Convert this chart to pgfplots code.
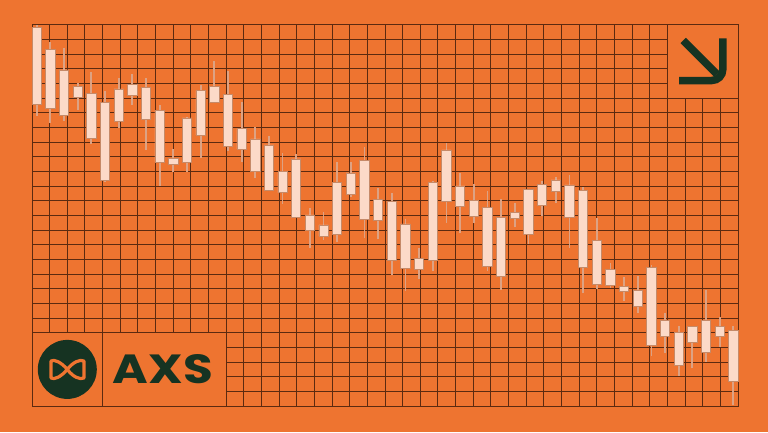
\documentclass[border=0pt]{standalone}
\usepackage{fontspec}
\setmainfont{Poppins}
\usepackage{pgfplots}
\usepackage{pgfplotstable}
\pgfplotsset{compat=1.18}

\definecolor{bg}{HTML}{EE7430}
\definecolor{gridc}{HTML}{5C2A10}
\definecolor{bodyc}{HTML}{FCDAC8}
\definecolor{edgec}{HTML}{C68A68}
\definecolor{wickc}{HTML}{DDA283}
\definecolor{ink}{HTML}{163322}

% candle values: wick high, body top, body bottom, wick low
\pgfplotstableread{
i  high  bhi    blo    low
1  381   378.7  301.7  290
2  364.3 356.7  297.7  283.3
3  358.3 336    291    285
4  323.3 319.3  308.3  296
5  334.3 312.3  267.7  262
6  315.3 303.3  226    224
7  328.3 317    284.3  277.7
8  331.7 321.7  311    301
9  328.3 318.7  286.7  256
10 301   295.3  244    220
11 257   247.7  242    234.3
12 289   288    243.7  234.3
13 321   315.3  271    248.3
14 345.3 319.3  303.3  302.5
15 335.3 311.7  259.3  255.3
16 304.3 277.7  257    244.3
17 278.7 267    234.3  228.3
18 270   261    216    215.5
19 253.3 234.3  213.3  202
20 252   247    188.7  188
21 197.7 191    175.3  157.7
22 194   181    170    166
23 244.3 223.7  172    164.3
24 243.7 233    212    209.3
25 259.3 245.3  187    167.7
26 218.3 206.7  186    166.7
27 212.7 204.3  146    131
28 187   182    137.7  115.3
29 157.7 147.7  136.7  126.7
30 225.3 223.3  146    135
31 263.3 256    204.3  183.3
32 233.3 220    199.3  172.7
33 222   205.3  189.3  182.7
34 215.3 198.7  140    135
35 207   188.3  130    116
36 202.5 193.5  188    178.7
37 217   216.7  171.7  162
38 225   221.7  200.3  190.3
39 229.3 226    215    202.7
40 231   221    188.7  158.3
41 219.3 215.3  138.7  112.7
42 187.7 166    121.7  116.7
43 143.3 136.7  120.3  118.3
44 128.7 119.3  114.3  105.3
45 130   115.3  99.3   93.3
46 141   138.7  61     50
47 92.7  86     70     53.3
48 80    73.7   41     30
49 80    79.3   63.3   37.7
50 116   86     53.3   44.3
51 89.3  80     69.3   59.3
52 80    76     24.3   1
}\candles

\begin{document}
\begin{tikzpicture}[x=1bp,y=1bp]
\fill[bg] (0,0) rectangle (768,432);

% background grid
\begin{axis}[
  at={(32bp,26bp)}, anchor=south west,
  width=706bp, height=381bp, scale only axis,
  xmin=0, xmax=40, ymin=0, ymax=26,
  xtick distance=1, ytick distance=1,
  xticklabel=\empty, yticklabel=\empty,
  major tick length=0pt,
  grid=major,
  major grid style={gridc, line width=1bp},
  axis line style={gridc, line width=1bp},
]
\end{axis}

% boxes
\filldraw[fill=bg, draw=gridc, line width=1bp] (32,26) rectangle (102.6,99.3);
\filldraw[fill=bg, draw=gridc, line width=1bp] (102.6,26) rectangle (226.2,99.3);
\filldraw[fill=bg, draw=gridc, line width=1bp] (667.4,333.7) rectangle (738,407);

% logo
\fill[ink] (67.3,62.6) circle (29.5);
\draw[bg, line width=3.2bp, line join=round]
  (67.3,62.6) .. controls (73,70) and (80,73) .. (84,71) -- (84,54)
  .. controls (80,52) and (73,55) .. (67.3,62.6)
  .. controls (61,70) and (54,73) .. (51,71) -- (51,54)
  .. controls (54,52) and (61,55) .. (67.3,62.6);
\node[ink, inner sep=0pt] at (163,62.5) {\resizebox{100bp}{29bp}{\bfseries AXS}};

% arrow
\draw[ink, line width=7.5bp, rounded corners=11bp] (722.8,393.7) -- (722.8,351.5) -- (679,351.5);
\draw[ink, line width=7.5bp] (683.2,391.5) -- (717,357.7);

% wicks
\begin{axis}[
  at={(32bp,26bp)}, anchor=south west,
  width=706bp, height=381bp, scale only axis,
  xmin=0.656, xmax=52.34, ymin=0, ymax=381,
  hide axis, clip=false,
]
\addplot[draw=none, mark=none, forget plot,
  error bars/.cd, y dir=plus, y explicit, error mark=none,
  error bar style={draw=wickc, line width=1.8bp}]
  table[x=i, y=low, y error expr=\thisrow{high}-\thisrow{low}] {\candles};
\end{axis}

% bodies
\begin{axis}[
  at={(32bp,26bp)}, anchor=south west,
  width=706bp, height=381bp, scale only axis,
  xmin=0.656, xmax=52.34, ymin=0, ymax=381,
  hide axis, clip=false,
  ybar stacked, bar width=9.3bp,
]
\addplot[draw=none, fill=none] table[x=i, y=blo] {\candles};
\addplot[fill=bodyc, draw=edgec, line width=0.8bp]
  table[x=i, y expr=\thisrow{bhi}-\thisrow{blo}] {\candles};
\end{axis}
\end{tikzpicture}
\end{document}
